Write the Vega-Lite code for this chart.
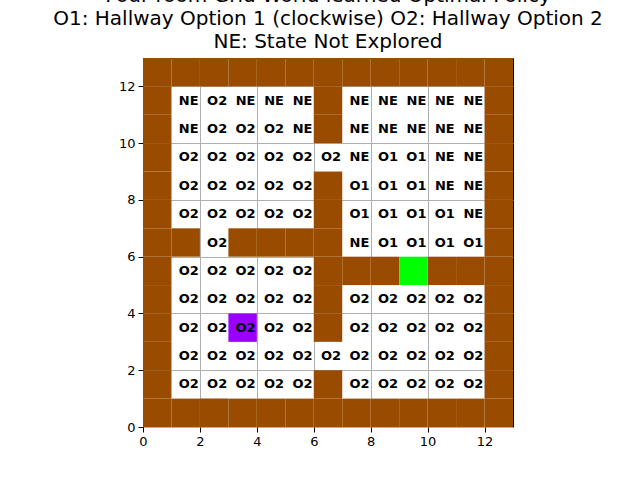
{
  "$schema": "https://vega.github.io/schema/vega-lite/v6.json",
  "width": 370,
  "height": 369,
  "autosize": "none",
  "padding": {"left": 143, "top": 58, "right": 127, "bottom": 53},
  "background": "white",
  "title": {
    "text": ["Four room Grid World learned Optimal Policy", "O1: Hallway Option 1 (clockwise) O2: Hallway Option 2", "NE: State Not Explored"],
    "fontSize": 20, "fontWeight": "normal", "font": "DejaVu Sans", "lineHeight": 23, "offset": 6, "color": "black"
  },
  "datasets": {
    "cells": [
      {"x":0,"y":0,"t":"w"},{"x":1,"y":0,"t":"w"},{"x":2,"y":0,"t":"w"},{"x":3,"y":0,"t":"w"},{"x":4,"y":0,"t":"w"},{"x":5,"y":0,"t":"w"},{"x":6,"y":0,"t":"w"},{"x":7,"y":0,"t":"w"},{"x":8,"y":0,"t":"w"},{"x":9,"y":0,"t":"w"},{"x":10,"y":0,"t":"w"},{"x":11,"y":0,"t":"w"},{"x":12,"y":0,"t":"w"},
      {"x":0,"y":12,"t":"w"},{"x":1,"y":12,"t":"w"},{"x":2,"y":12,"t":"w"},{"x":3,"y":12,"t":"w"},{"x":4,"y":12,"t":"w"},{"x":5,"y":12,"t":"w"},{"x":6,"y":12,"t":"w"},{"x":7,"y":12,"t":"w"},{"x":8,"y":12,"t":"w"},{"x":9,"y":12,"t":"w"},{"x":10,"y":12,"t":"w"},{"x":11,"y":12,"t":"w"},{"x":12,"y":12,"t":"w"},
      {"x":0,"y":1,"t":"w"},{"x":0,"y":2,"t":"w"},{"x":0,"y":3,"t":"w"},{"x":0,"y":4,"t":"w"},{"x":0,"y":5,"t":"w"},{"x":0,"y":6,"t":"w"},{"x":0,"y":7,"t":"w"},{"x":0,"y":8,"t":"w"},{"x":0,"y":9,"t":"w"},{"x":0,"y":10,"t":"w"},{"x":0,"y":11,"t":"w"},
      {"x":12,"y":1,"t":"w"},{"x":12,"y":2,"t":"w"},{"x":12,"y":3,"t":"w"},{"x":12,"y":4,"t":"w"},{"x":12,"y":5,"t":"w"},{"x":12,"y":6,"t":"w"},{"x":12,"y":7,"t":"w"},{"x":12,"y":8,"t":"w"},{"x":12,"y":9,"t":"w"},{"x":12,"y":10,"t":"w"},{"x":12,"y":11,"t":"w"},
      {"x":6,"y":1,"t":"w"},{"x":6,"y":3,"t":"w"},{"x":6,"y":4,"t":"w"},{"x":6,"y":5,"t":"w"},{"x":6,"y":6,"t":"w"},{"x":6,"y":7,"t":"w"},{"x":6,"y":8,"t":"w"},{"x":6,"y":10,"t":"w"},{"x":6,"y":11,"t":"w"},
      {"x":1,"y":6,"t":"w"},{"x":3,"y":6,"t":"w"},{"x":4,"y":6,"t":"w"},{"x":5,"y":6,"t":"w"},
      {"x":7,"y":5,"t":"w"},{"x":8,"y":5,"t":"w"},{"x":10,"y":5,"t":"w"},{"x":11,"y":5,"t":"w"},
      {"x":9,"y":5,"t":"g"},{"x":3,"y":3,"t":"p"}
    ],
    "labels": [
      {"x":1,"y":11,"l":"NE"},{"x":2,"y":11,"l":"O2"},{"x":3,"y":11,"l":"NE"},{"x":4,"y":11,"l":"NE"},{"x":5,"y":11,"l":"NE"},
      {"x":7,"y":11,"l":"NE"},{"x":8,"y":11,"l":"NE"},{"x":9,"y":11,"l":"NE"},{"x":10,"y":11,"l":"NE"},{"x":11,"y":11,"l":"NE"},
      {"x":1,"y":10,"l":"NE"},{"x":2,"y":10,"l":"O2"},{"x":3,"y":10,"l":"O2"},{"x":4,"y":10,"l":"O2"},{"x":5,"y":10,"l":"NE"},
      {"x":7,"y":10,"l":"NE"},{"x":8,"y":10,"l":"NE"},{"x":9,"y":10,"l":"NE"},{"x":10,"y":10,"l":"NE"},{"x":11,"y":10,"l":"NE"},
      {"x":1,"y":9,"l":"O2"},{"x":2,"y":9,"l":"O2"},{"x":3,"y":9,"l":"O2"},{"x":4,"y":9,"l":"O2"},{"x":5,"y":9,"l":"O2"},{"x":6,"y":9,"l":"O2"},
      {"x":7,"y":9,"l":"NE"},{"x":8,"y":9,"l":"O1"},{"x":9,"y":9,"l":"O1"},{"x":10,"y":9,"l":"NE"},{"x":11,"y":9,"l":"NE"},
      {"x":1,"y":8,"l":"O2"},{"x":2,"y":8,"l":"O2"},{"x":3,"y":8,"l":"O2"},{"x":4,"y":8,"l":"O2"},{"x":5,"y":8,"l":"O2"},
      {"x":7,"y":8,"l":"O1"},{"x":8,"y":8,"l":"O1"},{"x":9,"y":8,"l":"O1"},{"x":10,"y":8,"l":"NE"},{"x":11,"y":8,"l":"NE"},
      {"x":1,"y":7,"l":"O2"},{"x":2,"y":7,"l":"O2"},{"x":3,"y":7,"l":"O2"},{"x":4,"y":7,"l":"O2"},{"x":5,"y":7,"l":"O2"},
      {"x":7,"y":7,"l":"O1"},{"x":8,"y":7,"l":"O1"},{"x":9,"y":7,"l":"O1"},{"x":10,"y":7,"l":"O1"},{"x":11,"y":7,"l":"NE"},
      {"x":2,"y":6,"l":"O2"},
      {"x":7,"y":6,"l":"NE"},{"x":8,"y":6,"l":"O1"},{"x":9,"y":6,"l":"O1"},{"x":10,"y":6,"l":"O1"},{"x":11,"y":6,"l":"O1"},
      {"x":1,"y":5,"l":"O2"},{"x":2,"y":5,"l":"O2"},{"x":3,"y":5,"l":"O2"},{"x":4,"y":5,"l":"O2"},{"x":5,"y":5,"l":"O2"},
      {"x":1,"y":4,"l":"O2"},{"x":2,"y":4,"l":"O2"},{"x":3,"y":4,"l":"O2"},{"x":4,"y":4,"l":"O2"},{"x":5,"y":4,"l":"O2"},
      {"x":7,"y":4,"l":"O2"},{"x":8,"y":4,"l":"O2"},{"x":9,"y":4,"l":"O2"},{"x":10,"y":4,"l":"O2"},{"x":11,"y":4,"l":"O2"},
      {"x":1,"y":3,"l":"O2"},{"x":2,"y":3,"l":"O2"},{"x":3,"y":3,"l":"O2"},{"x":4,"y":3,"l":"O2"},{"x":5,"y":3,"l":"O2"},
      {"x":7,"y":3,"l":"O2"},{"x":8,"y":3,"l":"O2"},{"x":9,"y":3,"l":"O2"},{"x":10,"y":3,"l":"O2"},{"x":11,"y":3,"l":"O2"},
      {"x":1,"y":2,"l":"O2"},{"x":2,"y":2,"l":"O2"},{"x":3,"y":2,"l":"O2"},{"x":4,"y":2,"l":"O2"},{"x":5,"y":2,"l":"O2"},{"x":6,"y":2,"l":"O2"},
      {"x":7,"y":2,"l":"O2"},{"x":8,"y":2,"l":"O2"},{"x":9,"y":2,"l":"O2"},{"x":10,"y":2,"l":"O2"},{"x":11,"y":2,"l":"O2"},
      {"x":1,"y":1,"l":"O2"},{"x":2,"y":1,"l":"O2"},{"x":3,"y":1,"l":"O2"},{"x":4,"y":1,"l":"O2"},{"x":5,"y":1,"l":"O2"},
      {"x":7,"y":1,"l":"O2"},{"x":8,"y":1,"l":"O2"},{"x":9,"y":1,"l":"O2"},{"x":10,"y":1,"l":"O2"},{"x":11,"y":1,"l":"O2"}
    ]
  },
  "config": {
    "view": {"stroke": "black", "strokeWidth": 1},
    "axis": {
      "labelFont": "DejaVu Sans", "labelFontSize": 13, "labelColor": "black", "labelOverlap": false,
      "tickColor": "black", "tickSize": 5, "domain": false, "labelPadding": 3,
      "grid": true, "gridColor": "#b0b0b0", "gridWidth": 1, "zindex": 1, "title": null
    }
  },
  "layer": [
    {
      "data": {"name": "cells"},
      "transform": [{"calculate": "datum.x + 1", "as": "x2"}, {"calculate": "datum.y + 1", "as": "y2"}],
      "mark": {"type": "rect"},
      "encoding": {
        "x": {"field": "x", "type": "quantitative", "scale": {"domain": [0, 13], "nice": false},
              "axis": {"values": [0,1,2,3,4,5,6,7,8,9,10,11,12,13], "labelAngle": 0, "labelFlush": false}},
        "x2": {"field": "x2"},
        "y": {"field": "y", "type": "quantitative", "scale": {"domain": [0, 13], "nice": false},
              "axis": {"values": [0,1,2,3,4,5,6,7,8,9,10,11,12,13], "labelFlush": false}},
        "y2": {"field": "y2"},
        "color": {"field": "t", "type": "nominal", "legend": null,
                  "scale": {"domain": ["w", "g", "p"], "range": ["#994c00", "#00ff00", "#9900ff"]}}
      }
    },
    {
      "data": {"name": "labels"},
      "transform": [{"calculate": "datum.x + 0.5", "as": "cx"}, {"calculate": "datum.y + 0.5", "as": "cy"}],
      "mark": {"type": "text", "font": "DejaVu Sans", "fontWeight": "bold", "fontSize": 13, "color": "black", "dx": 3},
      "encoding": {
        "x": {"field": "cx", "type": "quantitative"},
        "y": {"field": "cy", "type": "quantitative"},
        "text": {"field": "l"}
      }
    }
  ]
}
